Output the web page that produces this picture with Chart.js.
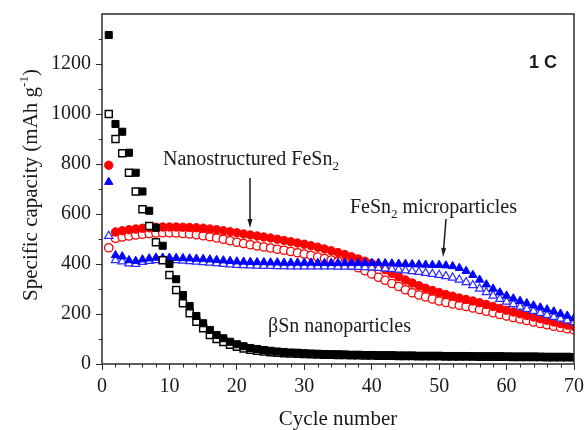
<!DOCTYPE html>
<html>
<head>
<meta charset="utf-8">
<script src="https://cdn.jsdelivr.net/npm/chart.js@4.4.1/dist/chart.umd.min.js"></script>
<style>
  html, body { margin: 0; padding: 0; background: #fff; }
  #wrap { width: 585px; height: 430px; }
</style>
</head>
<body>
<div id="wrap"><canvas id="capChart" width="585" height="430"></canvas></div>
<script>
// cycle numbers
const cycles = [1,2,3,4,5,6,7,8,9,10,11,12,13,14,15,16,17,18,19,20,
  21,22,23,24,25,26,27,28,29,30,31,32,33,34,35,36,37,38,39,40,
  41,42,43,44,45,46,47,48,49,50,51,52,53,54,55,56,57,58,59,60,
  61,62,63,64,65,66,67,68,69,70];

// βSn nanoparticles (filled = discharge, open = charge)
const snDischarge = [1316,960,929,845,765,690,613,545,473,400,339,276,232,192,163,136,116,103,89,79,
  71,64,60,56,53,50,48,46,45,43,42,41,40,39,39,38,37,37,36,36,
  35,35,35,34,34,34,33,33,33,33,32,32,32,32,31,31,31,31,31,30,
  30,30,30,30,29,29,29,29,29,28];
const snCharge = [1000,900,843,765,690,619,552,487,415,356,296,243,203,169,143,116,100,88,77,69,
  62,57,53,50,47,45,43,42,41,40,39,38,37,37,36,36,35,35,34,34,
  33,33,33,32,32,32,31,31,31,31,30,30,30,30,30,29,29,29,29,29,
  28,28,28,28,28,27,27,27,27,27];

// Nanostructured FeSn2
const nanoDischarge = [795,528,533,537,540,543,545,547,548,548,548,547,546,545,543,540,537,533,529,525,
  520,516,512,508,504,499,494,489,484,479,473,467,460,453,446,438,429,420,411,402,
  390,377,363,349,336,324,313,303,294,286,278,271,264,258,252,245,238,230,222,215,
  208,201,194,188,181,175,168,162,156,150];
const nanoCharge = [465,503,508,512,516,519,522,524,525,525,524,522,520,517,513,509,504,499,493,487,
  482,477,472,468,464,459,455,450,445,440,434,428,422,416,410,402,394,385,373,360,
  347,335,322,310,297,285,276,268,260,252,246,240,235,230,224,218,211,205,198,192,
  186,180,174,168,162,157,151,146,141,137];

// FeSn2 microparticles
const microDischarge = [728,435,430,415,412,418,422,425,425,425,424,423,422,421,420,418,416,414,412,410,
  409,408,407,407,406,406,405,405,405,405,405,404,404,404,404,404,404,404,404,404,
  404,403,402,401,400,399,398,397,396,396,394,391,384,372,356,337,318,301,286,273,
  262,252,243,234,226,218,210,201,193,184];
const microCharge = [512,415,410,402,400,408,412,415,416,416,415,413,411,409,407,405,403,400,398,396,
  395,394,393,392,392,391,391,390,390,390,390,390,390,390,389,389,389,388,387,386,
  384,382,380,377,374,371,368,364,360,356,351,345,337,327,315,301,287,273,260,249,
  239,229,220,212,204,196,188,181,174,167];

const xTicksMajor = [0,10,20,30,40,50,60,70];
const yTicksMajor = [0,200,400,600,800,1000,1200];

const serif = "'Liberation Serif', 'Times New Roman', serif";

function toPoints(values){
    return values.map((v, i) => ({x: cycles[i], y: v}));
}

// ecriture de morceaux de texte (indices, exposants)
function drawPieces(ctx, pieces, x, y){
    let cx = x;
    pieces.forEach(p => {
        ctx.font = p.font;
        ctx.fillText(p.t, cx, y + (p.dy || 0));
        cx += ctx.measureText(p.t).width;
    });
    return cx - x;
}
function piecesWidth(ctx, pieces){
    let w = 0;
    pieces.forEach(p => { ctx.font = p.font; w += ctx.measureText(p.t).width; });
    return w;
}

function arrow(ctx, x1, y1, x2, y2){
    const a = Math.atan2(y2 - y1, x2 - x1);
    ctx.beginPath();
    ctx.moveTo(x1, y1);
    ctx.lineTo(x2 - Math.cos(a) * 6, y2 - Math.sin(a) * 6);
    ctx.stroke();
    ctx.beginPath();
    ctx.moveTo(x2, y2);
    ctx.lineTo(x2 - Math.cos(a) * 9 + Math.sin(a) * 2.5, y2 - Math.sin(a) * 9 - Math.cos(a) * 2.5);
    ctx.lineTo(x2 - Math.cos(a) * 9 - Math.sin(a) * 2.5, y2 - Math.sin(a) * 9 + Math.cos(a) * 2.5);
    ctx.closePath();
    ctx.fill();
}

const decorPlugin = {
    id: 'decor',
    afterDraw(chart){
        const ctx = chart.ctx;
        const area = chart.chartArea;
        const xs = chart.scales.x;
        const ys = chart.scales.y;
        ctx.save();
        // cadre
        ctx.strokeStyle = '#2a2a2a';
        ctx.lineWidth = 1.5;
        ctx.strokeRect(area.left, area.top, area.right - area.left, area.bottom - area.top);

        // petites graduations
        ctx.lineWidth = 1;
        ctx.beginPath();
        for (let v = 2; v < 70; v += 2){
            if (v % 10 === 0) continue;
            const px = Math.round(xs.getPixelForValue(v)) + 0.5;
            ctx.moveTo(px, area.bottom);
            ctx.lineTo(px, area.bottom + 3.5);
        }
        for (let v = 100; v < 1400; v += 200){
            const py = Math.round(ys.getPixelForValue(v)) + 0.5;
            ctx.moveTo(area.left, py);
            ctx.lineTo(area.left - 3.5, py);
        }
        ctx.stroke();

        ctx.fillStyle = '#1a1a1a';
        ctx.textBaseline = 'alphabetic';
        ctx.textAlign = 'left';

        // titre axe x
        const big = '21px ' + serif;
        const small = '13px ' + serif;
        const xt = [{t: 'Cycle number', font: big}];
        drawPieces(ctx, xt, (area.left + area.right) / 2 - piecesWidth(ctx, xt) / 2, 425);

        // titre axe y
        const yt = [
            {t: 'Specific capacity (mAh g', font: big},
            {t: '-1', font: small, dy: -9},
            {t: ')', font: big}
        ];
        ctx.save();
        ctx.translate(37, 185);
        ctx.rotate(-Math.PI / 2);
        drawPieces(ctx, yt, -piecesWidth(ctx, yt) / 2, 0);
        ctx.restore();

        // annotations
        const lab = '20px ' + serif;
        drawPieces(ctx, [
            {t: 'Nanostructured FeSn', font: lab},
            {t: '2', font: small, dy: 5}
        ], 163, 165);
        drawPieces(ctx, [
            {t: 'FeSn', font: lab},
            {t: '2', font: small, dy: 5},
            {t: ' microparticles', font: lab}
        ], 350, 213);
        drawPieces(ctx, [{t: '\u03B2Sn nanoparticles', font: lab}], 268, 332);

        ctx.font = "bold 18px 'Liberation Sans', Arial, sans-serif";
        ctx.textAlign = 'right';
        ctx.fillText('1 C', 557, 68);

        ctx.strokeStyle = '#1a1a1a';
        ctx.lineWidth = 1.5;
        arrow(ctx, 250, 178, 250, 228);
        arrow(ctx, 446, 219, 443, 257);
        ctx.restore();
    }
};

const ctx1 = document.getElementById('capChart').getContext('2d');
const capChart = new Chart(ctx1, {
    type: 'scatter',
    data: {
        datasets: [
            {label: 'βSn discharge', data: toPoints(snDischarge), pointStyle: 'rect', pointRadius: 5,
             backgroundColor: '#000', borderColor: '#000', borderWidth: 1},
            {label: 'βSn charge', data: toPoints(snCharge), pointStyle: 'rect', pointRadius: 5,
             backgroundColor: '#fff', borderColor: '#000', borderWidth: 1.4},
            {label: 'micro discharge', data: toPoints(microDischarge), pointStyle: 'triangle', pointRadius: 4.8,
             backgroundColor: '#0000ff', borderColor: '#0000ff', borderWidth: 1},
            {label: 'micro charge', data: toPoints(microCharge), pointStyle: 'triangle', pointRadius: 4.8,
             backgroundColor: '#fff', borderColor: '#2a2aff', borderWidth: 1.2},
            {label: 'nano discharge', data: toPoints(nanoDischarge), pointStyle: 'circle', pointRadius: 4.2,
             backgroundColor: '#ff0000', borderColor: '#ff0000', borderWidth: 1},
            {label: 'nano charge', data: toPoints(nanoCharge), pointStyle: 'circle', pointRadius: 4.2,
             backgroundColor: '#fff', borderColor: '#ff0000', borderWidth: 1.3}
        ]
    },
    options: {
        responsive: false,
        animation: false,
        layout: {padding: {left: 0, right: 11, top: 14, bottom: 0}},
        plugins: {legend: {display: false}, tooltip: {enabled: false}},
        scales: {
            x: {
                type: 'linear', min: 0, max: 70,
                afterFit: s => { s.height = 66; s.paddingLeft = 0; s.paddingRight = 0; },
                afterBuildTicks: s => { s.ticks = xTicksMajor.map(v => ({value: v})); },
                grid: {drawOnChartArea: false, tickLength: 6, tickColor: '#2a2a2a', tickWidth: 1},
                border: {display: false},
                ticks: {color: '#1a1a1a', padding: 5, maxRotation: 0, font: {family: serif, size: 20},
                        callback: v => String(v)}
            },
            y: {
                type: 'linear', min: 0, max: 1400,
                afterFit: s => { s.width = 102; s.paddingTop = 0; s.paddingBottom = 0; },
                afterBuildTicks: s => { s.ticks = yTicksMajor.map(v => ({value: v})); },
                grid: {drawOnChartArea: false, tickLength: 6, tickColor: '#2a2a2a', tickWidth: 1},
                border: {display: false},
                ticks: {color: '#1a1a1a', padding: 5, font: {family: serif, size: 20},
                        callback: v => String(v)}
            }
        }
    },
    plugins: [decorPlugin]
});
</script>
</body>
</html>
